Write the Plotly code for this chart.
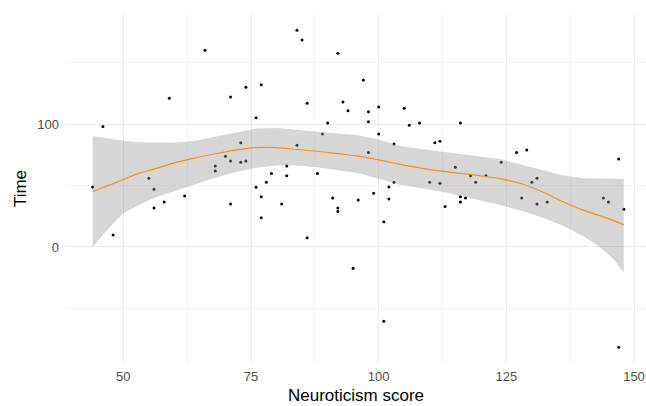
import plotly.graph_objects as go

# Scatter data (Neuroticism score, Time)
neuro = [44, 46, 48, 55, 56, 56, 58, 59, 62, 66, 68, 68, 70, 71, 71, 71, 73, 73, 74, 74,
         76, 76, 77, 77, 77, 78, 79, 81, 82, 82, 84, 84, 85, 86, 86, 88, 89, 90, 91, 92,
         92, 92, 93, 94, 95, 96, 97, 98, 98, 98, 99, 100, 100, 101, 101, 102, 102, 103, 103, 105,
         106, 108, 110, 111, 112, 112, 113, 115, 116, 116, 116, 117, 118, 119, 121, 124, 127, 128, 129, 130,
         131, 131, 133, 144, 145, 147, 147, 148]
time = [48.9, 98.1, 9.8, 56.0, 47.0, 31.8, 36.7, 121.2, 41.6, 160.3, 66.0, 62.0, 73.9, 122.3, 70.1, 35.1, 85.0, 69.0, 130.2, 70.1,
        105.4, 48.7, 132.3, 41.0, 23.9, 52.7, 59.8, 35.1, 66.0, 58.1, 176.7, 82.9, 168.7, 117.1, 7.6, 59.8, 92.1, 101.1, 39.9, 157.9,
        31.8, 28.8, 118.2, 111.1, -17.4, 38.3, 136.1, 110.3, 102.1, 76.9, 43.8, 114.1, 92.1, 20.6, -60.6, 48.9, 39.0, 84.0, 52.7, 113.1,
        99.2, 101.1, 52.7, 85.0, 86.2, 51.9, 32.9, 65.0, 101.1, 41.0, 36.7, 39.9, 58.1, 52.7, 58.1, 69.0, 76.9, 39.9, 79.1, 52.7,
        56.0, 35.1, 36.7, 39.9, 36.7, 71.7, -81.8, 30.7]

# Smoothed fit
fit_x = [44, 46, 48, 50, 53, 56, 60, 64, 68, 72, 76, 80, 84, 88, 92, 96, 100, 104, 108, 112,
         116, 120, 124, 128, 132, 136, 140, 143, 146, 148]
fit_y = [45, 48.5, 51.5, 55, 60, 63.5, 68.5, 72.5, 76, 79, 81, 81, 79.5, 78, 76, 74, 71, 67.5, 64.5, 62,
         60, 58, 55.5, 51.5, 45, 37, 30, 26, 21.5, 18]
fit_hi = [90.5, 89, 88, 86.5, 85.3, 85, 85, 86.5, 90, 93.5, 96.5, 97, 95.5, 94, 92.5, 91, 87.5, 82.5, 80, 78,
          75.5, 73.5, 71.5, 67, 63, 58.5, 56, 55.5, 55.5, 55.5]
fit_lo = [0, 10, 19, 27.5, 34, 40, 46, 51, 56.5, 61, 64.5, 66.5, 66.5, 65, 62.5, 60, 55.5, 51, 48, 45.5,
          42, 38, 34, 29.5, 24, 17.5, 9, 1, -10, -21]

x_ticks = [50, 75, 100, 125, 150]
x_labels = ["50", "75", "100", "125", "150"]
y_ticks = [0, 100]
y_labels = ["0", "100"]

FONT = "Liberation Sans, Arial, sans-serif"
GRID = "#EBEBEB"

fig = go.Figure()
fig.add_trace(go.Scatter(x=neuro, y=time, mode="markers",
                         marker=dict(color="black", size=3), hoverinfo="x+y", showlegend=False))
fig.add_trace(go.Scatter(x=fit_x + fit_x[::-1], y=fit_hi + fit_lo[::-1], fill="toself",
                         fillcolor="rgba(153,153,153,0.4)", line=dict(width=0),
                         mode="lines", showlegend=False, hoverinfo="skip"))
fig.add_trace(go.Scatter(x=fit_x, y=fit_y, mode="lines", line=dict(color="#F7931E", width=1.2, shape="spline"),
                         showlegend=False))

fig.update_layout(
    width=646, height=406,
    margin=dict(l=66, r=0, t=14, b=43),
    paper_bgcolor="white", plot_bgcolor="white",
    font=dict(family=FONT),
    xaxis=dict(range=[38.77, 152.35], tickvals=x_ticks, ticktext=x_labels,
               showgrid=True, gridcolor=GRID, gridwidth=1.1, zeroline=False, showline=False,
               ticks="", ticklabelstandoff=4,
               tickfont=dict(size=13, color="#4D4D4D", family=FONT),
               minor=dict(tickvals=[62.5, 87.5, 112.5, 137.5], showgrid=True, gridcolor="#F3F3F3", gridwidth=0.6),
               title=dict(text="Neuroticism score", font=dict(size=17, color="black", family=FONT), standoff=6),
               automargin=False),
    yaxis=dict(range=[-94.6, 189.9], tickvals=y_ticks, ticktext=y_labels,
               showgrid=True, gridcolor=GRID, gridwidth=1.1, zeroline=False, showline=False,
               ticks="", ticklabelstandoff=6,
               tickfont=dict(size=13, color="#4D4D4D", family=FONT),
               minor=dict(tickvals=[-50, 50, 150], showgrid=True, gridcolor="#F3F3F3", gridwidth=0.6),
               title=dict(text="Time", font=dict(size=17, color="black", family=FONT), standoff=6),
               automargin=False),
)

fig.write_html("out.html")
